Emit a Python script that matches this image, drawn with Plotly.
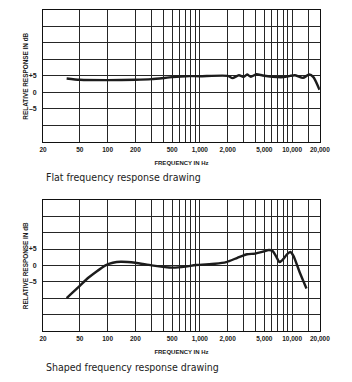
import plotly.graph_objects as go

# ---------------- data ----------------
flat_freq = [36, 50, 100, 200, 300, 500, 700, 1000, 2000, 2260, 2650, 3000, 3250, 3570,
             4100, 4800, 6100, 8100, 9500, 10700, 13100, 15300, 17000, 19800]
flat_db = [4.2, 3.8, 3.7, 3.8, 4.0, 4.6, 4.9, 4.9, 5.0, 4.3, 5.2, 4.7, 5.4, 4.7,
           5.5, 5.1, 4.7, 4.6, 5.0, 5.2, 4.4, 5.4, 4.6, 0.8]

shaped_freq = [36, 50, 60, 95, 114, 139, 200, 300, 500, 700, 906, 1460, 1930, 2550,
               3250, 3960, 4840, 5590, 6150, 6650, 7300, 7940, 8800, 9520, 10330, 12100, 14300]
shaped_db = [-10.0, -6.3, -4.1, 0.0, 0.8, 1.1, 0.8, 0.0, -0.7, -0.4, 0.1, 0.5, 1.0, 2.3,
             3.4, 3.6, 4.2, 4.7, 4.4, 2.9, 1.0, 1.8, 3.4, 4.1, 2.9, -2.2, -7.1]

x_tick_vals = [20, 50, 100, 200, 500, 1000, 2000, 5000, 10000, 20000]
x_tick_text = ["20", "50", "100", "200", "500", "1,000", "2,000", "5,000", "10,000", "20,000"]
x_minor_vals = [300, 400, 600, 700, 800, 900, 3000, 4000, 6000, 7000, 8000, 9000, 15000]

y_label_map = {5: "+5", 0: "0", -5: "–5"}
top_range = [-15, 25]
bottom_range = [-20, 20]

captions = ["Flat frequency response drawing", "Shaped frequency response drawing"]

# ---------------- figure ----------------
W, H = 352, 382
LINE = "#1c1c1c"
GRID = "#262626"

fig = go.Figure()
fig.add_trace(go.Scatter(x=flat_freq, y=flat_db, mode="lines",
                         line=dict(color=LINE, width=2.4, shape="spline", smoothing=0.6),
                         xaxis="x", yaxis="y", showlegend=False))
fig.add_trace(go.Scatter(x=shaped_freq, y=shaped_db, mode="lines",
                         line=dict(color=LINE, width=2.4, shape="spline", smoothing=0.6),
                         xaxis="x2", yaxis="y2", showlegend=False))

x0, x1 = 40.7 / W, 329.0 / W
dom_top = [(H - 141.7) / H, (H - 10) / H]
dom_bot = [(H - 330.7) / H, (H - 200) / H]


def xaxis_cfg(anchor):
    return dict(type="log", range=[1.30103, 4.30103], domain=[x0, x1], anchor=anchor,
                tickmode="array", tickvals=x_tick_vals, ticktext=x_tick_text,
                showgrid=True, gridcolor=GRID, gridwidth=1,
                minor=dict(tickmode="array", tickvals=x_minor_vals, showgrid=True,
                           gridcolor=GRID, gridwidth=1, ticks=""),
                showline=True, linecolor="#111", linewidth=1, mirror=True,
                ticks="", ticklabelstandoff=1,
                tickfont=dict(family="Liberation Sans, Arial, sans-serif", size=6.5,
                              color="#1a1a1a", weight="bold"),
                title=dict(text="FREQUENCY IN Hz", standoff=8,
                           font=dict(family="Liberation Sans, Arial, sans-serif", size=6,
                                     color="#1a1a1a", weight="bold")),
                zeroline=False, fixedrange=True)


def yaxis_cfg(anchor, rng, dom):
    vals = list(range(rng[0], rng[1] + 1, 5))
    text = [y_label_map.get(v, "") for v in vals]
    return dict(range=rng, domain=dom, anchor=anchor,
                tickmode="array", tickvals=vals, ticktext=text,
                showgrid=True, gridcolor=GRID, gridwidth=1,
                showline=True, linecolor="#111", linewidth=1, mirror=True,
                ticks="", ticklabelstandoff=4,
                tickfont=dict(family="Liberation Sans, Arial, sans-serif", size=7,
                              color="#1a1a1a", weight="bold"),
                zeroline=False, fixedrange=True)


fig.update_layout(
    width=W, height=H,
    margin=dict(l=0, r=0, t=0, b=0),
    paper_bgcolor="white", plot_bgcolor="white",
    xaxis=xaxis_cfg("y"),
    yaxis=yaxis_cfg("x", top_range, dom_top),
    xaxis2=xaxis_cfg("y2"),
    yaxis2=yaxis_cfg("x2", bottom_range, dom_bot),
)

ytitle_font = dict(family="Liberation Sans, Arial, sans-serif", size=6.4, color="#1a1a1a", weight="bold")
for dom in (dom_top, dom_bot):
    fig.add_annotation(text="RELATIVE RESPONSE IN dB", textangle=-90,
                       x=22.7 / W, y=(dom[0] + dom[1]) / 2, xref="paper", yref="paper",
                       xanchor="center", yanchor="middle", showarrow=False, font=ytitle_font)

cap_font = dict(family="DejaVu Sans Condensed, Liberation Sans Narrow, sans-serif",
                size=10.5, color="#222")
for cap, yc in zip(captions, (177, 367)):
    fig.add_annotation(text=cap, x=42 / W, y=(H - yc) / H, xref="paper", yref="paper",
                       xanchor="left", yanchor="middle", showarrow=False, font=cap_font)

fig.write_html("out.html")
